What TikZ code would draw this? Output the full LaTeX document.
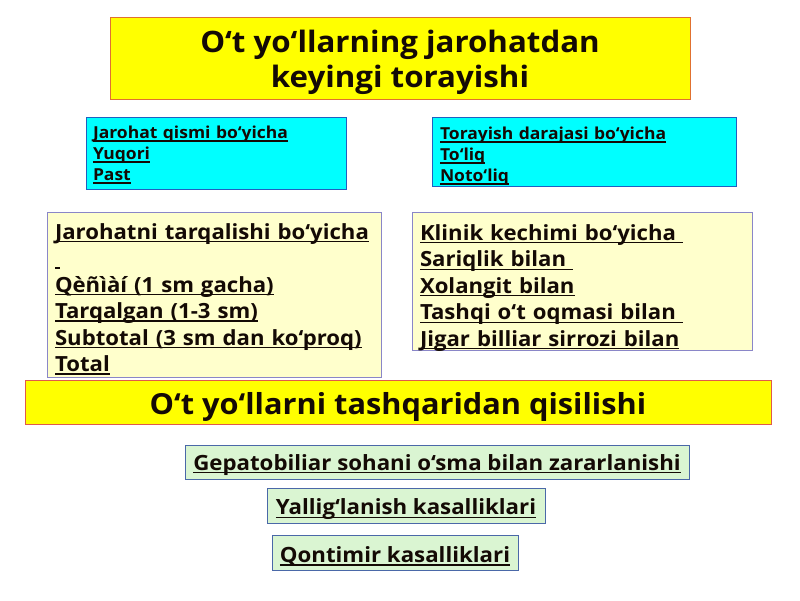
\documentclass[tikz,border=0pt]{standalone}
\usepackage{fontspec}
\setmainfont{Open Sans}[FakeStretch=1.06]
\newsavebox{\ulbox}
\newcommand{\myul}[1]{\leavevmode\sbox{\ulbox}{#1}\hbox{\rlap{\rule[-2.8pt]{\wd\ulbox}{1.2pt}}\usebox{\ulbox}}}
\definecolor{ttlfill}{HTML}{FFFF00}
\definecolor{ttlline}{HTML}{E07030}
\definecolor{barline}{HTML}{E05A4A}
\definecolor{cyfill}{HTML}{00FFFF}
\definecolor{cyline}{HTML}{2060C0}
\definecolor{lyfill}{HTML}{FFFFCC}
\definecolor{lyline}{HTML}{8A86C8}
\definecolor{grfill}{HTML}{DAF5D2}
\definecolor{grline}{HTML}{4A68A8}
\definecolor{ink}{HTML}{140A05}
\begin{document}
\begin{tikzpicture}[x=1pt,y=-1pt,
  titlebox/.style={draw=ttlline, fill=ttlfill, line width=0.8pt, align=center, inner sep=0pt, text=ink, font=\bfseries\fontsize{29.5}{35}\selectfont},
  barbox/.style={draw=barline, fill=ttlfill, line width=0.8pt, align=center, inner sep=0pt, text=ink, font=\bfseries\fontsize{29}{34}\selectfont},
  cybox/.style={draw=cyline, fill=cyfill, line width=0.8pt, align=left, inner ysep=0pt, text=ink, font=\bfseries\fontsize{16.5}{21}\selectfont},
  lybox/.style={draw=lyline, fill=lyfill, line width=0.8pt, align=left, inner ysep=0pt, text=ink, font=\bfseries\fontsize{20.9}{26.5}\selectfont},
  grbox/.style={draw=grline, fill=grfill, line width=0.8pt, align=center, inner sep=0pt, text=ink, font=\bfseries\fontsize{21}{26}\selectfont},
  bare/.style={draw=none, fill=none}
]
\useasboundingbox (0,0) rectangle (800,600);
\fill[white] (0,0) rectangle (800,600);

\node[titlebox, minimum width=580pt, minimum height=82pt] (title) at (400,58) {};
\node[titlebox, bare] (titletext) at (400,62.5)
  {O‘t yo‘llarning jarohatdan\\keyingi torayishi};

\node[cybox, minimum width=260pt, minimum height=72pt] (cyl) at (216,153) {};
\node[cybox, bare, inner xsep=7pt, text width=246pt] (cyltext) at (216,155)
  {\myul{Jarohat qismi bo‘yicha}\\\myul{Yuqori}\\\myul{Past}};
\node[cybox, minimum width=304pt, minimum height=69pt] (cyr) at (584,151.5) {};
\node[cybox, bare, inner xsep=8pt, text width=288pt] (cyrtext) at (584,156.5)
  {\myul{Torayish darajasi bo‘yicha}\\\myul{To‘liq}\\\myul{Noto‘liq}};

\node[lybox, minimum width=334pt, minimum height=165pt] (lyl) at (214,294.5) {};
\node[lybox, bare, inner xsep=8pt, text width=318pt] (lyltext) at (214,299)
  {\myul{Jarohatni tarqalishi bo‘yicha}\\\myul{\hspace{5pt}}\\\myul{Qèñìàí (1 sm gacha)}\\\myul{Tarqalgan (1-3 sm)}\\\myul{Subtotal (3 sm dan ko‘proq)}\\\myul{Total}};
\node[lybox, minimum width=340pt, minimum height=138pt] (lyr) at (582,281) {};
\node[lybox, bare, inner xsep=8pt, text width=324pt] (lyrtext) at (582,288)
  {\myul{Klinik kechimi bo‘yicha\ }\\\myul{Sariqlik bilan\ }\\\myul{Xolangit bilan}\\\myul{Tashqi o‘t oqmasi bilan\ }\\\myul{Jigar billiar sirrozi bilan}};

\node[barbox, minimum width=746pt, minimum height=44pt] (bar) at (398,402) {};
\node[barbox, bare] (bartext) at (398,407) {O‘t yo‘llarni tashqaridan qisilishi};

\node[grbox, minimum width=504pt, minimum height=34pt] (g1) at (437,462) {};
\node[grbox, bare] (g1text) at (437,465)
  {\myul{Gepatobiliar sohani o‘sma bilan zararlanishi}};
\node[grbox, minimum width=278pt, minimum height=35pt] (g2) at (406,505.5) {};
\node[grbox, bare] (g2text) at (406,509.5)
  {\myul{Yallig‘lanish kasalliklari}};
\node[grbox, minimum width=246pt, minimum height=35pt] (g3) at (395,552.5) {};
\node[grbox, bare] (g3text) at (395,556.5)
  {\myul{Qontimir kasalliklari}};
\end{tikzpicture}
\end{document}
